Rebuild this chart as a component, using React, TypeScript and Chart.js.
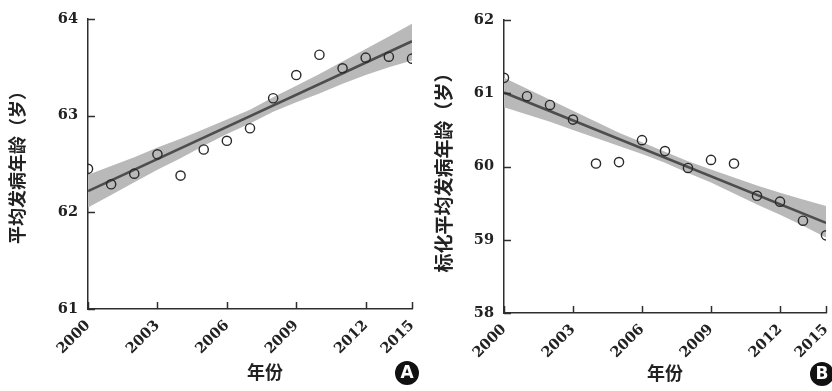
import React, { useEffect, useRef } from "react";
import { Chart, registerables } from "chart.js";

Chart.register(...registerables);

// ---------- data ----------
const years = [2000, 2001, 2002, 2003, 2004, 2005, 2006, 2007, 2008, 2009, 2010, 2011, 2012, 2013, 2014];
const tickYears = [2000, 2003, 2006, 2009, 2012, 2014];
const tickLabels = ["2000", "2003", "2006", "2009", "2012", "2015"];

// Panel A: mean age at onset
const ageA = [62.45, 62.29, 62.4, 62.6, 62.38, 62.65, 62.74, 62.87, 63.18, 63.42, 63.63, 63.49, 63.6, 63.61, 63.59];
const fitYears = [2000, 2014];
const fitA = [62.22, 63.77];
const upperA = [62.39, 62.48, 62.57, 62.67, 62.76, 62.86, 62.96, 63.06, 63.19, 63.31, 63.43, 63.56, 63.69, 63.82, 63.95];
const lowerA = [62.05, 62.18, 62.31, 62.44, 62.56, 62.69, 62.81, 62.92, 63.04, 63.14, 63.23, 63.33, 63.42, 63.5, 63.57];
const yTicksA = [61, 62, 63, 64];

// Panel B: standardized mean age at onset
const ageB = [61.21, 60.96, 60.84, 60.64, 60.04, 60.06, 60.36, 60.21, 59.98, 60.09, 60.04, 59.6, 59.52, 59.26, 59.06];
const fitB = [61.01, 59.23];
const upperB = [61.21, 61.06, 60.91, 60.76, 60.61, 60.46, 60.33, 60.2, 60.07, 59.96, 59.85, 59.74, 59.64, 59.55, 59.46];
const lowerB = [60.81, 60.71, 60.61, 60.5, 60.39, 60.28, 60.17, 60.05, 59.91, 59.78, 59.63, 59.48, 59.34, 59.19, 59.03];
const yTicksB = [58, 59, 60, 61, 62];

const yTitleA = "平均发病年龄（岁）";
const yTitleB = "标化平均发病年龄（岁）";
const xTitle = "年份";

// ---------- styles ----------
const AXIS = "#2e2e2e";
const TICK_FONT = { family: "'DejaVu Serif', serif", size: 14.5, weight: "bold" as const };
const CJK = "'Noto Sans CJK SC', 'Noto Sans', sans-serif";

const decorPlugin = {
  id: "decor",
  afterDraw(chart: any, _args: any, opts: any) {
    const { ctx, chartArea, scales } = chart;
    ctx.save();
    ctx.strokeStyle = AXIS;
    ctx.lineWidth = 1.5;
    scales.y.ticks.forEach((t: any) => {
      const y = Math.round(scales.y.getPixelForValue(t.value)) + 0.5;
      ctx.beginPath();
      ctx.moveTo(chartArea.left, y);
      ctx.lineTo(chartArea.left + 7, y);
      ctx.stroke();
    });
    scales.x.ticks.forEach((t: any) => {
      const x = Math.round(scales.x.getPixelForValue(t.value)) + 0.5;
      ctx.beginPath();
      ctx.moveTo(x, chartArea.bottom);
      ctx.lineTo(x, chartArea.bottom - 7);
      ctx.stroke();
    });
    ctx.fillStyle = "#222";
    ctx.textAlign = "center";
    ctx.textBaseline = "middle";
    // y title
    ctx.font = `bold ${opts.yTitleSize}px ${CJK}`;
    ctx.save();
    ctx.translate(opts.yTitleX, opts.yTitleY);
    ctx.rotate(-Math.PI / 2);
    ctx.fillText(opts.yTitle, 0, 0);
    ctx.restore();
    // x title
    ctx.font = `bold 18px ${CJK}`;
    ctx.fillText(opts.xTitle, opts.xTitleX, opts.xTitleY);
    // circled letter
    ctx.beginPath();
    ctx.arc(opts.badgeX, opts.badgeY, 12, 0, Math.PI * 2);
    ctx.fillStyle = "#111";
    ctx.fill();
    ctx.fillStyle = "#fff";
    ctx.font = `bold 17px 'DejaVu Sans', sans-serif`;
    ctx.fillText(opts.badge, opts.badgeX, opts.badgeY + 1);
    ctx.restore();
  },
};

type PanelProps = {
  width: number;
  height: number;
  area: { left: number; right: number; top: number; bottom: number };
  ages: number[];
  fit: number[];
  upper: number[];
  lower: number[];
  yTicks: number[];
  decor: any;
};

function Panel(p: PanelProps) {
  const ref = useRef<HTMLCanvasElement | null>(null);
  useEffect(() => {
    if (!ref.current) return;
    const pts = (vals: number[], xs: number[]) => vals.map((v, i) => ({ x: xs[i], y: v }));
    const chart = new Chart(ref.current, {
      type: "line",
      data: {
        datasets: [
          {
            data: pts(p.ages, years),
            showLine: false,
            pointRadius: 4.6,
            pointHoverRadius: 4.6,
            pointBorderWidth: 1.4,
            pointBorderColor: "#2a2a2a",
            pointBackgroundColor: "rgba(255,255,255,0)",
            order: 0,
          },
          {
            data: pts(p.fit, fitYears),
            borderColor: "#4d4d4d",
            borderWidth: 2.6,
            pointRadius: 0,
            fill: false,
            order: 1,
          },
          {
            data: pts(p.lower, years),
            borderWidth: 0,
            borderColor: "rgba(0,0,0,0)",
            pointRadius: 0,
            fill: false,
            order: 3,
          },
          {
            data: pts(p.upper, years),
            borderWidth: 0,
            borderColor: "rgba(0,0,0,0)",
            backgroundColor: "#b9b9b9",
            pointRadius: 0,
            fill: "-1",
            order: 2,
          },
        ],
      },
      options: {
        animation: false,
        responsive: true,
        maintainAspectRatio: false,
        events: [],
        layout: {
          padding: { left: 0, top: p.area.top, right: p.width - p.area.right, bottom: 0 },
        },
        plugins: {
          legend: { display: false },
          tooltip: { enabled: false },
          decor: p.decor,
        } as any,
        scales: {
          x: {
            type: "linear",
            min: years[0],
            max: years[years.length - 1],
            afterBuildTicks: (s: any) => {
              s.ticks = tickYears.map((v) => ({ value: v }));
            },
            afterFit: (s: any) => {
              s.height = p.height - p.area.bottom;
              s.paddingLeft = 0;
              s.paddingRight = 0;
            },
            grid: { display: false, drawTicks: false },
            border: { display: true, color: AXIS, width: 1.5 },
            ticks: {
              autoSkip: false,
              minRotation: 45,
              maxRotation: 45,
              padding: 8,
              color: "#222",
              font: TICK_FONT,
              callback: (_v: any, i: number) => tickLabels[i],
            },
          },
          y: {
            type: "linear",
            min: p.yTicks[0],
            max: p.yTicks[p.yTicks.length - 1],
            afterBuildTicks: (s: any) => {
              s.ticks = p.yTicks.map((v) => ({ value: v }));
            },
            afterFit: (s: any) => {
              s.width = p.area.left;
              s.paddingTop = 0;
              s.paddingBottom = 0;
            },
            grid: { display: false, drawTicks: false },
            border: { display: true, color: AXIS, width: 1.5 },
            ticks: {
              padding: 10,
              color: "#222",
              font: TICK_FONT,
              callback: (v: any) => String(v),
            },
          },
        },
      },
      plugins: [decorPlugin],
    });
    return () => chart.destroy();
  }, []);
  return (
    <div style={{ position: "relative", width: p.width, height: p.height }}>
      <canvas ref={ref} />
    </div>
  );
}

export default function App() {
  return (
    <div style={{ position: "absolute", left: 0, top: 0, width: 832, height: 391, background: "#fff", display: "flex" }}>
      <Panel
        width={420}
        height={391}
        area={{ left: 88, right: 412, top: 19, bottom: 309 }}
        ages={ageA}
        fit={fitA}
        upper={upperA}
        lower={lowerA}
        yTicks={yTicksA}
        decor={{
          yTitle: yTitleA,
          yTitleSize: 18,
          yTitleX: 17,
          yTitleY: 163,
          xTitle,
          xTitleX: 265,
          xTitleY: 372,
          badge: "A",
          badgeX: 407,
          badgeY: 373,
        }}
      />
      <Panel
        width={412}
        height={391}
        area={{ left: 84, right: 408, top: 20, bottom: 313 }}
        ages={ageB}
        fit={fitB}
        upper={upperB}
        lower={lowerB}
        yTicks={yTicksB}
        decor={{
          yTitle: yTitleB,
          yTitleSize: 19,
          yTitleX: 24,
          yTitleY: 168,
          xTitle,
          xTitleX: 245,
          xTitleY: 373,
          badge: "B",
          badgeX: 402,
          badgeY: 374,
        }}
      />
    </div>
  );
}
